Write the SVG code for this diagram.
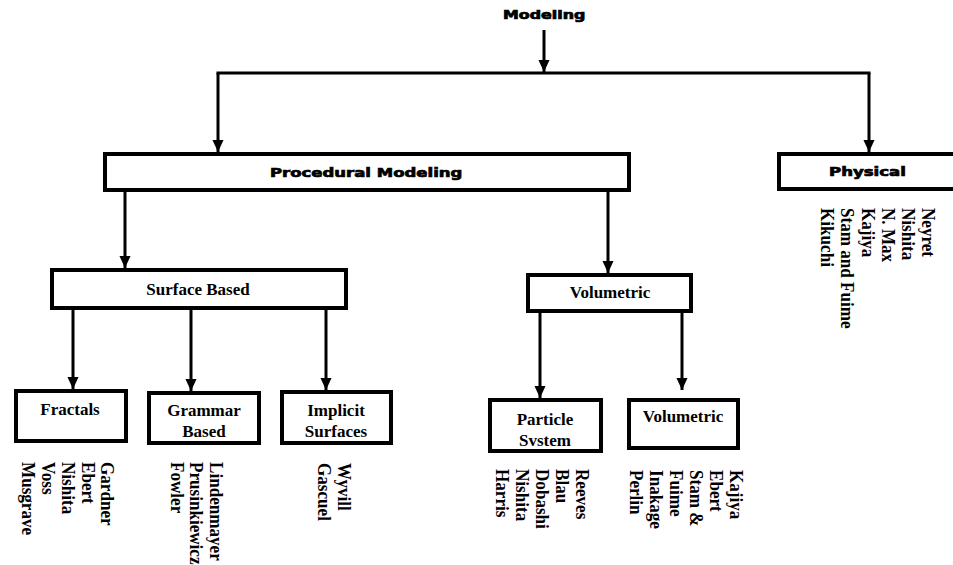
<svg xmlns="http://www.w3.org/2000/svg" width="953" height="565" viewBox="0 0 953 565">
<style>
.box{fill:#fff;stroke:#000;stroke-width:4}
.heavy{font-family:"DejaVu Sans",sans-serif;font-weight:bold;fill:#000;stroke:#000;stroke-width:0.7}
.lbl{font-family:"Liberation Serif","Times New Roman",serif;font-weight:bold;font-size:17px;fill:#000;text-anchor:middle}
.lst text{font-family:"Liberation Serif","Times New Roman",serif;font-weight:bold;font-size:19px;fill:#000}
.con{fill:none;stroke:#000;stroke-width:3}
</style>
<defs>
<marker id="ah" markerUnits="userSpaceOnUse" markerWidth="12" markerHeight="13" refX="13" refY="6" orient="auto" viewBox="0 0 13 12">
<path d="M0,0 L13,6 L0,12 z" fill="#000"/>
</marker>
</defs>
<rect width="953" height="565" fill="#fff"/>
<g id="connectors">
<line class="con" x1="544" y1="30" x2="544" y2="72" marker-end="url(#ah)"/>
<line class="con" x1="216.5" y1="73" x2="870.5" y2="73"/>
<line class="con" x1="218" y1="73" x2="218" y2="152" marker-end="url(#ah)"/>
<line class="con" x1="869" y1="73" x2="869" y2="152" marker-end="url(#ah)"/>
<line class="con" x1="125" y1="192" x2="125" y2="268" marker-end="url(#ah)"/>
<line class="con" x1="608" y1="192" x2="608" y2="273" marker-end="url(#ah)"/>
<line class="con" x1="73" y1="310" x2="73" y2="389" marker-end="url(#ah)"/>
<line class="con" x1="191" y1="310" x2="191" y2="391" marker-end="url(#ah)"/>
<line class="con" x1="326" y1="310" x2="326" y2="390" marker-end="url(#ah)"/>
<line class="con" x1="540" y1="313" x2="540" y2="398" marker-end="url(#ah)"/>
<line class="con" x1="682" y1="313" x2="682" y2="390" marker-end="url(#ah)"/>
</g>
<g id="modeling">
<text class="heavy" transform="translate(503,19) scale(1.35,1)" font-size="11.5" textLength="61" lengthAdjust="spacingAndGlyphs">Modeling</text>
</g>
<g id="procedural">
<rect class="box" x="105" y="154" width="524" height="36"/>
<text class="heavy" transform="translate(270,177) scale(1.3,1)" font-size="13" textLength="148" lengthAdjust="spacingAndGlyphs">Procedural Modeling</text>
</g>
<g id="physical">
<rect class="box" x="779" y="154" width="200" height="35"/>
<text class="heavy" transform="translate(829,176) scale(1.35,1)" font-size="12.5" textLength="57" lengthAdjust="spacingAndGlyphs">Physical</text>
<g class="lst">
<text transform="translate(922,208) rotate(90) scale(0.9,1)">Neyret</text>
<text transform="translate(902,208) rotate(90) scale(0.9,1)">Nishita</text>
<text transform="translate(882,208) rotate(90) scale(0.9,1)">N. Max</text>
<text transform="translate(862,208) rotate(90) scale(0.9,1)">Kajiya</text>
<text transform="translate(841,208) rotate(90) scale(0.9,1)">Stam and Fuime</text>
<text transform="translate(821,208) rotate(90) scale(0.9,1)">Kikuchi</text>
</g>
</g>
<g id="surface">
<rect class="box" x="52" y="270" width="294" height="38"/>
<text class="lbl" x="198" y="295" font-size="17.5">Surface Based</text>
</g>
<g id="volumetric">
<rect class="box" x="528" y="275" width="163" height="36"/>
<text class="lbl" x="610" y="298">Volumetric</text>
</g>
<g id="fractals">
<rect class="box" x="16" y="391" width="110" height="50"/>
<text class="lbl" x="70" y="415">Fractals</text>
<g class="lst">
<text transform="translate(101,462) rotate(90) scale(0.9,1)">Gardner</text>
<text transform="translate(82,462) rotate(90) scale(0.9,1)">Ebert</text>
<text transform="translate(62,462) rotate(90) scale(0.9,1)">Nishita</text>
<text transform="translate(42,462) rotate(90) scale(0.9,1)">Voss</text>
<text transform="translate(22,462) rotate(90) scale(0.9,1)">Musgrave</text>
</g>
</g>
<g id="grammar">
<rect class="box" x="149" y="393" width="110" height="50"/>
<text class="lbl" x="204" y="416">Grammar</text>
<text class="lbl" x="204" y="437">Based</text>
<g class="lst">
<text transform="translate(210,462) rotate(90) scale(0.9,1)">Lindenmayer</text>
<text transform="translate(190,462) rotate(90) scale(0.9,1)">Prusinkiewicz</text>
<text transform="translate(171,462) rotate(90) scale(0.9,1)">Fowler</text>
</g>
</g>
<g id="implicit">
<rect class="box" x="282" y="392" width="109" height="51"/>
<text class="lbl" x="336" y="416">Implicit</text>
<text class="lbl" x="336" y="437">Surfaces</text>
<g class="lst">
<text transform="translate(338,463) rotate(90) scale(0.9,1)">Wyvill</text>
<text transform="translate(318,463) rotate(90) scale(0.9,1)">Gascuel</text>
</g>
</g>
<g id="particle">
<rect class="box" x="490" y="400" width="111" height="51"/>
<text class="lbl" x="545" y="425">Particle</text>
<text class="lbl" x="545" y="446">Svstem</text>
<g class="lst">
<text transform="translate(576,469) rotate(90) scale(0.9,1)">Reeves</text>
<text transform="translate(556,469) rotate(90) scale(0.9,1)">Blau</text>
<text transform="translate(536,469) rotate(90) scale(0.9,1)">Dobashi</text>
<text transform="translate(516,469) rotate(90) scale(0.9,1)">Nishita</text>
<text transform="translate(496,469) rotate(90) scale(0.9,1)">Harris</text>
</g>
</g>
<g id="volumetric2">
<rect class="box" x="629" y="400" width="109" height="48"/>
<text class="lbl" x="683" y="422">Volumetric</text>
<g class="lst">
<text transform="translate(730,470) rotate(90) scale(0.9,1)">Kajiya</text>
<text transform="translate(710,470) rotate(90) scale(0.9,1)">Ebert</text>
<text transform="translate(690,470) rotate(90) scale(0.9,1)">Stam &amp;</text>
<text transform="translate(670,470) rotate(90) scale(0.9,1)">Fuime</text>
<text transform="translate(650,470) rotate(90) scale(0.9,1)">Inakage</text>
<text transform="translate(630,470) rotate(90) scale(0.9,1)">Perlin</text>
</g>
</g>
</svg>
